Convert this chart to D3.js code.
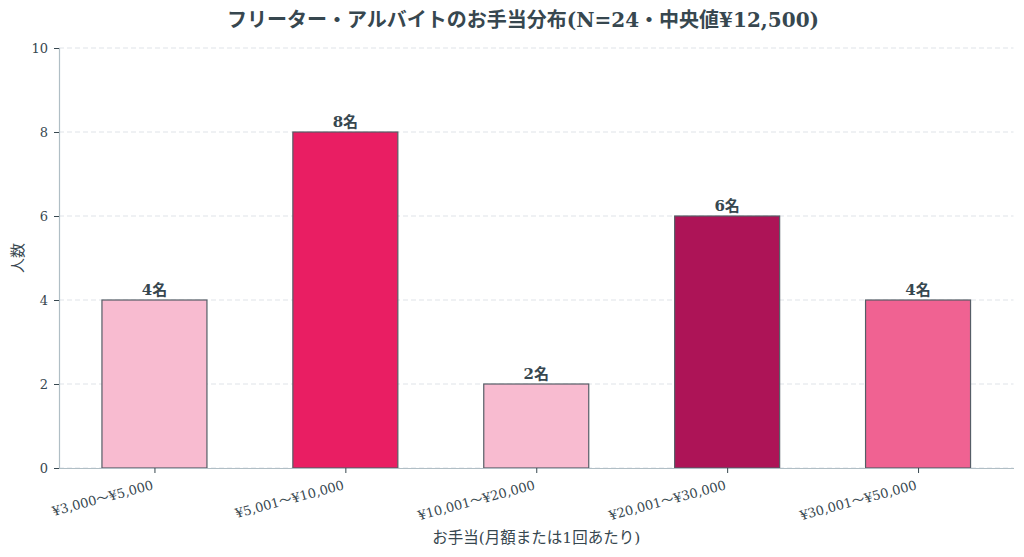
<!DOCTYPE html>
<html>
<head>
<meta charset="utf-8">
<script src="https://cdn.jsdelivr.net/npm/d3@7"></script>
<style>
  body { margin: 0; background: #fff; }
  svg text { font-family: "DejaVu Serif", "Noto Sans CJK JP", serif; fill: #37474f; }
</style>
</head>
<body>
<div id="chart"></div>
<script>
// data
const categories = ["¥3,000〜¥5,000", "¥5,001〜¥10,000", "¥10,001〜¥20,000", "¥20,001〜¥30,000", "¥30,001〜¥50,000"]
const counts = [4, 8, 2, 6, 4]
const barColours = ["#f8bbd0", "#e91e63", "#f8bbd0", "#ad1457", "#f06292"]
const yTicks = [0, 2, 4, 6, 8, 10]

const title = "フリーター・アルバイトのお手当分布(N=24・中央値¥12,500)"
const xLabel = "お手当(月額または1回あたり)"
const yLabel = "人数"

const width = 1024
const height = 557
const margin = { top: 48, right: 10.5, bottom: 89, left: 59 }
const innerW = width - margin.left - margin.right
const innerH = height - margin.top - margin.bottom

let svg = d3.select("#chart")
    .append("svg")
    .attr("width", width)
    .attr("height", height)

let g = svg.append("g")
    .attr("transform", "translate(" + margin.left + "," + margin.top + ")")

// linear x so that bars are 0.55 wide with half a unit padding at each end
const x = d3.scaleLinear()
    .domain([-0.5, categories.length - 0.5])
    .range([0, innerW])
const barWidth = 0.55

const y = d3.scaleLinear()
    .domain([0, 10])
    .range([innerH, 0])

// grid
g.selectAll(".grid")
    .data(yTicks)
    .enter()
    .append("line")
    .attr("x1", 0)
    .attr("x2", innerW)
    .attr("y1", (d) => y(d))
    .attr("y2", (d) => y(d))
    .attr("stroke", "#dfe3e8")
    .attr("stroke-width", 1)
    .attr("stroke-dasharray", "5,3")

// bars
g.selectAll(".bar")
    .data(counts)
    .enter()
    .append("rect")
    .attr("x", (d, i) => x(i - barWidth / 2))
    .attr("width", x(barWidth) - x(0))
    .attr("y", (d) => y(d))
    .attr("height", (d) => y(0) - y(d))
    .attr("fill", (d, i) => barColours[i])
    .attr("stroke", "#555d66")
    .attr("stroke-width", 1.2)

// value labels
g.selectAll(".val")
    .data(counts)
    .enter()
    .append("text")
    .attr("x", (d, i) => x(i))
    .attr("y", (d) => y(d) - 5)
    .attr("text-anchor", "middle")
    .attr("font-size", 15)
    .attr("font-weight", "bold")
    .text((d) => d + "名")

// y axis
let yAxis = g.append("g")
    .call(d3.axisLeft(y).tickValues(yTicks).tickSize(5).tickPadding(6))
yAxis.select(".domain").attr("stroke", "#b0bec5").attr("stroke-width", 1.2)
yAxis.selectAll(".tick line").attr("stroke", "#37474f")
yAxis.selectAll(".tick text").attr("font-size", 13)

// x axis
let xAxis = g.append("g")
    .attr("transform", "translate(0," + innerH + ")")
    .call(d3.axisBottom(x).tickValues(d3.range(categories.length)).tickFormat((d) => categories[d]).tickSize(5).tickSizeOuter(0))
xAxis.select(".domain").attr("stroke", "#b0bec5").attr("stroke-width", 1.2)
xAxis.selectAll(".tick line").attr("stroke", "#37474f")
xAxis.selectAll(".tick text")
    .attr("font-size", 13)
    .attr("text-anchor", "end")
    .attr("x", 0)
    .attr("y", 0)
    .attr("dy", 0)
    .attr("transform", "translate(-1,21) rotate(-15)")

// title
svg.append("text")
    .attr("x", 523)
    .attr("y", 27)
    .attr("text-anchor", "middle")
    .attr("font-size", 20)
    .attr("font-weight", "bold")
    .text(title)

// axis labels
svg.append("text")
    .attr("x", margin.left + innerW / 2)
    .attr("y", 543)
    .attr("text-anchor", "middle")
    .attr("font-size", 15.5)
    .text(xLabel)

svg.append("text")
    .attr("transform", "translate(23," + (margin.top + innerH / 2) + ") rotate(-90)")
    .attr("text-anchor", "middle")
    .attr("font-size", 15)
    .text(yLabel)
</script>
</body>
</html>
